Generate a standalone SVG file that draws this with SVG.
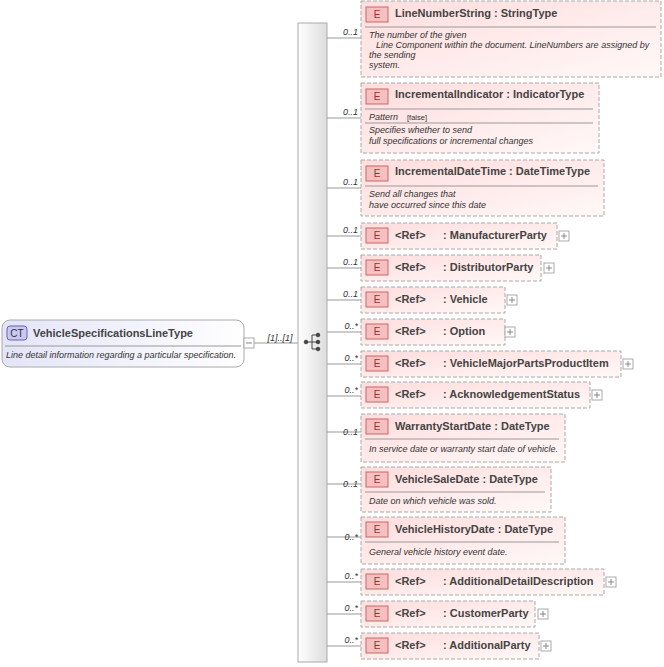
<svg xmlns="http://www.w3.org/2000/svg" width="664" height="667" viewBox="0 0 664 667">
<defs>
<linearGradient id="eg" x1="0" y1="0" x2="1" y2="1"><stop offset="0" stop-color="#fdd"/><stop offset="1" stop-color="#fff8f8"/></linearGradient>
<linearGradient id="cg" x1="0" y1="0" x2="1" y2="0"><stop offset="0" stop-color="#e4e4f8"/><stop offset="1" stop-color="#fff"/></linearGradient>
<linearGradient id="sg" x1="0" y1="0" x2="1" y2="0"><stop offset="0" stop-color="#fff"/><stop offset="1" stop-color="#ddd"/></linearGradient>
</defs>
<style>
text{font-family:"Liberation Sans",Arial,sans-serif;fill:#333}
.el{fill:url(#eg);stroke:#aaa;stroke-dasharray:4,2}
.n{font-size:11px;font-weight:bold;fill:#444}
.d{font-size:9px;font-style:italic}
.m{font-size:9px;font-style:italic}
.sep{stroke:#999;stroke-width:1}
.eb{fill:#f4c0c0;stroke:#c66}
.et{font-size:10px;fill:#933}
.c{stroke:#999;fill:none}
.pl{fill:#fff;stroke:#aaa}
</style>
<g id="connectors">
<line class="c" x1="254" y1="343" x2="298" y2="343"/>
<line class="c" x1="327" y1="38" x2="361" y2="38"/>
<line class="c" x1="327" y1="118" x2="361" y2="118"/>
<line class="c" x1="327" y1="188" x2="361" y2="188"/>
<line class="c" x1="327" y1="236" x2="361" y2="236"/>
<line class="c" x1="327" y1="268" x2="361" y2="268"/>
<line class="c" x1="327" y1="300" x2="361" y2="300"/>
<line class="c" x1="327" y1="332" x2="361" y2="332"/>
<line class="c" x1="327" y1="364" x2="361" y2="364"/>
<line class="c" x1="327" y1="396" x2="361" y2="396"/>
<line class="c" x1="327" y1="432" x2="361" y2="432"/>
<line class="c" x1="327" y1="484" x2="361" y2="484"/>
<line class="c" x1="327" y1="537" x2="361" y2="537"/>
<line class="c" x1="327" y1="582" x2="361" y2="582"/>
<line class="c" x1="327" y1="614" x2="361" y2="614"/>
<line class="c" x1="327" y1="646" x2="361" y2="646"/>
<text class="m" x="358" y="35" text-anchor="end">0..1</text>
<text class="m" x="358" y="115" text-anchor="end">0..1</text>
<text class="m" x="358" y="185" text-anchor="end">0..1</text>
<text class="m" x="358" y="233" text-anchor="end">0..1</text>
<text class="m" x="358" y="265" text-anchor="end">0..1</text>
<text class="m" x="358" y="297" text-anchor="end">0..1</text>
<text class="m" x="358" y="329" text-anchor="end">0..*</text>
<text class="m" x="358" y="361" text-anchor="end">0..*</text>
<text class="m" x="358" y="393" text-anchor="end">0..*</text>
<text class="m" x="358" y="435" text-anchor="end">0..1</text>
<text class="m" x="358" y="487" text-anchor="end">0..1</text>
<text class="m" x="358" y="540" text-anchor="end">0..*</text>
<text class="m" x="358" y="579" text-anchor="end">0..*</text>
<text class="m" x="358" y="611" text-anchor="end">0..*</text>
<text class="m" x="358" y="643" text-anchor="end">0..*</text>
<text class="m" x="280" y="341" text-anchor="middle">[1]..[1]</text>
</g>
<g id="root">
<rect x="2" y="320" width="242" height="47" rx="8" fill="url(#cg)" stroke="#aaa"/>
<rect x="7" y="326" width="20" height="14" rx="3" fill="#c8c8f0" stroke="#66a"/>
<text x="17" y="337" text-anchor="middle" font-size="10" fill="#448">CT</text>
<text class="n" x="33" y="337">VehicleSpecificationsLineType</text>
<line class="sep" x1="5" y1="346" x2="241" y2="346"/>
<text class="d" x="6" y="358">Line detail information regarding a particular specification.</text>
<rect class="pl" x="244" y="338" width="10" height="10"/>
<line x1="246" y1="343" x2="252" y2="343" stroke="#888"/>
</g>
<g id="sequence">
<rect x="298" y="23" width="29" height="639" fill="url(#sg)" stroke="#aaa"/>
<g fill="#444" stroke="#444">
<circle cx="306" cy="342" r="1.8"/><line x1="306" y1="342" x2="312" y2="342"/>
<line x1="312" y1="335" x2="312" y2="349"/>
<line x1="312" y1="335" x2="318" y2="335"/><line x1="312" y1="342" x2="318" y2="342"/><line x1="312" y1="349" x2="318" y2="349"/>
<circle cx="318" cy="335" r="1.8"/><circle cx="318" cy="342" r="1.8"/><circle cx="318" cy="349" r="1.8"/>
</g>
</g>
<g id="LineNumberString">
<rect class="el" x="361" y="1" width="300" height="76"/>
<rect class="eb" x="366" y="7" width="22" height="15"/><text class="et" x="377" y="18" text-anchor="middle">E</text>
<text class="n" x="395" y="17">LineNumberString : StringType</text>
<line class="sep" x1="365" y1="27" x2="656" y2="27"/>
<text class="d" x="369" y="38">The number of the given</text>
<text class="d" x="376" y="48">Line Component within the document. LineNumbers are assigned by</text>
<text class="d" x="369" y="58">the sending</text>
<text class="d" x="369" y="68">system.</text>
</g>
<g id="IncrementalIndicator">
<rect class="el" x="361" y="83" width="238" height="70"/>
<rect class="eb" x="366" y="89" width="22" height="15"/><text class="et" x="377" y="100" text-anchor="middle">E</text>
<text class="n" x="395" y="98">IncrementalIndicator : IndicatorType</text>
<line class="sep" x1="365" y1="109" x2="593" y2="109"/>
<text class="d" x="369" y="120" fill="#000">Pattern</text>
<text x="407" y="120" font-size="7.5" fill="#999">[false]</text>
<line class="sep" x1="365" y1="123" x2="593" y2="123"/>
<text class="d" x="369" y="133">Specifies whether to send</text>
<text class="d" x="369" y="144">full specifications or incremental changes</text>
</g>
<g id="IncrementalDateTime">
<rect class="el" x="361" y="160" width="243" height="56"/>
<rect class="eb" x="366" y="166" width="22" height="15"/><text class="et" x="377" y="177" text-anchor="middle">E</text>
<text class="n" x="395" y="175">IncrementalDateTime : DateTimeType</text>
<line class="sep" x1="365" y1="186" x2="598" y2="186"/>
<text class="d" x="369" y="197">Send all changes that</text>
<text class="d" x="369" y="208">have occurred since this date</text>
</g>
<g id="ManufacturerParty">
<rect class="el" x="361" y="223" width="196" height="26"/>
<rect class="eb" x="366" y="228" width="22" height="15"/><text class="et" x="377" y="239" text-anchor="middle">E</text>
<text class="n" x="395" y="239">&lt;Ref&gt;</text><text class="n" x="443" y="239">: ManufacturerParty</text>
<rect class="pl" x="559" y="231" width="10" height="10"/><path d="M561 236h6M564 233v6" stroke="#888"/>
</g>
<g id="DistributorParty">
<rect class="el" x="361" y="255" width="180" height="26"/>
<rect class="eb" x="366" y="260" width="22" height="15"/><text class="et" x="377" y="271" text-anchor="middle">E</text>
<text class="n" x="395" y="271">&lt;Ref&gt;</text><text class="n" x="443" y="271">: DistributorParty</text>
<rect class="pl" x="544" y="263" width="10" height="10"/><path d="M546 268h6M549 265v6" stroke="#888"/>
</g>
<g id="Vehicle">
<rect class="el" x="361" y="287" width="144" height="26"/>
<rect class="eb" x="366" y="292" width="22" height="15"/><text class="et" x="377" y="303" text-anchor="middle">E</text>
<text class="n" x="395" y="303">&lt;Ref&gt;</text><text class="n" x="443" y="303">: Vehicle</text>
<rect class="pl" x="507" y="295" width="10" height="10"/><path d="M509 300h6M512 297v6" stroke="#888"/>
</g>
<g id="Option">
<rect class="el" x="361" y="319" width="144" height="26"/>
<rect class="eb" x="366" y="324" width="22" height="15"/><text class="et" x="377" y="335" text-anchor="middle">E</text>
<text class="n" x="395" y="335">&lt;Ref&gt;</text><text class="n" x="443" y="335">: Option</text>
<rect class="pl" x="505" y="327" width="10" height="10"/><path d="M507 332h6M510 329v6" stroke="#888"/>
</g>
<g id="VehicleMajorPartsProductItem">
<rect class="el" x="361" y="351" width="260" height="26"/>
<rect class="eb" x="366" y="356" width="22" height="15"/><text class="et" x="377" y="367" text-anchor="middle">E</text>
<text class="n" x="395" y="367">&lt;Ref&gt;</text><text class="n" x="443" y="367">: VehicleMajorPartsProductItem</text>
<rect class="pl" x="623" y="359" width="10" height="10"/><path d="M625 364h6M628 361v6" stroke="#888"/>
</g>
<g id="AcknowledgementStatus">
<rect class="el" x="361" y="382" width="229" height="26"/>
<rect class="eb" x="366" y="387" width="22" height="15"/><text class="et" x="377" y="398" text-anchor="middle">E</text>
<text class="n" x="395" y="398">&lt;Ref&gt;</text><text class="n" x="443" y="398">: AcknowledgementStatus</text>
<rect class="pl" x="592" y="390" width="10" height="10"/><path d="M594 395h6M597 392v6" stroke="#888"/>
</g>
<g id="WarrantyStartDate">
<rect class="el" x="361" y="414" width="204" height="48"/>
<rect class="eb" x="366" y="419" width="22" height="15"/><text class="et" x="377" y="430" text-anchor="middle">E</text>
<text class="n" x="395" y="430">WarrantyStartDate : DateType</text>
<line class="sep" x1="365" y1="439" x2="559" y2="439"/>
<text class="d" x="369" y="452">In service date or warranty start date of vehicle.</text>
</g>
<g id="VehicleSaleDate">
<rect class="el" x="361" y="467" width="190" height="45"/>
<rect class="eb" x="366" y="472" width="22" height="15"/><text class="et" x="377" y="483" text-anchor="middle">E</text>
<text class="n" x="395" y="483">VehicleSaleDate : DateType</text>
<line class="sep" x1="365" y1="492" x2="545" y2="492"/>
<text class="d" x="369" y="504">Date on which vehicle was sold.</text>
</g>
<g id="VehicleHistoryDate">
<rect class="el" x="361" y="517" width="204" height="47"/>
<rect class="eb" x="366" y="522" width="22" height="15"/><text class="et" x="377" y="533" text-anchor="middle">E</text>
<text class="n" x="395" y="533">VehicleHistoryDate : DateType</text>
<line class="sep" x1="365" y1="542" x2="559" y2="542"/>
<text class="d" x="369" y="555">General vehicle history event date.</text>
</g>
<g id="AdditionalDetailDescription">
<rect class="el" x="361" y="569" width="243" height="26"/>
<rect class="eb" x="366" y="574" width="22" height="15"/><text class="et" x="377" y="585" text-anchor="middle">E</text>
<text class="n" x="395" y="585">&lt;Ref&gt;</text><text class="n" x="443" y="585">: AdditionalDetailDescription</text>
<rect class="pl" x="606" y="577" width="10" height="10"/><path d="M608 582h6M611 579v6" stroke="#888"/>
</g>
<g id="CustomerParty">
<rect class="el" x="361" y="601" width="174" height="26"/>
<rect class="eb" x="366" y="606" width="22" height="15"/><text class="et" x="377" y="617" text-anchor="middle">E</text>
<text class="n" x="395" y="617">&lt;Ref&gt;</text><text class="n" x="443" y="617">: CustomerParty</text>
<rect class="pl" x="538" y="609" width="10" height="10"/><path d="M540 614h6M543 611v6" stroke="#888"/>
</g>
<g id="AdditionalParty">
<rect class="el" x="361" y="633" width="178" height="26"/>
<rect class="eb" x="366" y="638" width="22" height="15"/><text class="et" x="377" y="649" text-anchor="middle">E</text>
<text class="n" x="395" y="649">&lt;Ref&gt;</text><text class="n" x="443" y="649">: AdditionalParty</text>
<rect class="pl" x="541" y="641" width="10" height="10"/><path d="M543 646h6M546 643v6" stroke="#888"/>
</g>
</svg>
